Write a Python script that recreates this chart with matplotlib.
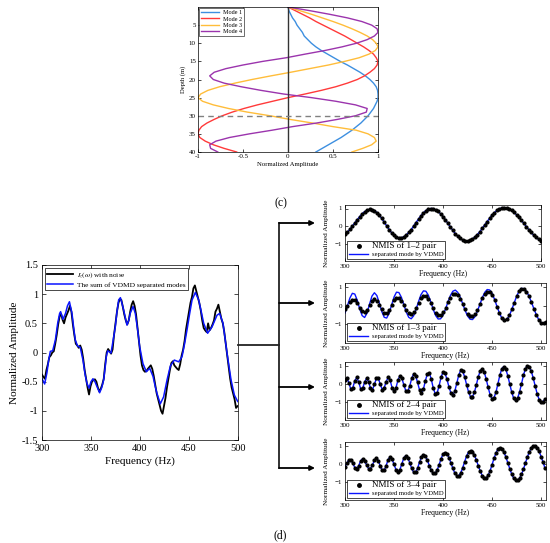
import numpy as np
import matplotlib.pyplot as plt

plt.rcParams['font.family'] = ['Liberation Serif', 'DejaVu Serif']
plt.rcParams['mathtext.fontset'] = 'stix'
plt.rcParams['xtick.direction'] = 'in'
plt.rcParams['ytick.direction'] = 'in'
plt.rcParams['xtick.top'] = True
plt.rcParams['ytick.right'] = True
plt.rcParams['axes.linewidth'] = 0.5
plt.rcParams['xtick.major.width'] = 0.5
plt.rcParams['ytick.major.width'] = 0.5

# ---- (c) normal modes vs depth ----
depth = np.arange(0, 41)
mode1 = [0, 0.01, 0.03, 0.05, 0.08, 0.10, 0.13, 0.16, 0.18, 0.22, 0.26, 0.31, 0.37, 0.44,
         0.51, 0.58, 0.66, 0.73, 0.80, 0.86, 0.91, 0.95, 0.98, 0.995, 1.0, 1.0, 0.99, 0.97,
         0.95, 0.92, 0.89, 0.85, 0.81, 0.76, 0.71, 0.65, 0.59, 0.52, 0.45, 0.38, 0.31]
mode2 = [0, 0.08, 0.16, 0.24, 0.31, 0.39, 0.47, 0.55, 0.63, 0.70, 0.77, 0.84, 0.90, 0.95,
         0.98, 1.0, 0.99, 0.96, 0.91, 0.85, 0.77, 0.66, 0.53, 0.37, 0.19, 0.0, -0.17, -0.34,
         -0.49, -0.62, -0.73, -0.82, -0.90, -0.96, -0.99, -1.0, -0.98, -0.92, -0.83, -0.71, -0.57]
mode3 = [0, 0.13, 0.26, 0.38, 0.50, 0.61, 0.71, 0.80, 0.88, 0.94, 0.98, 1.0, 0.97, 0.90,
         0.79, 0.63, 0.45, 0.24, 0.03, -0.19, -0.40, -0.59, -0.76, -0.89, -0.97, -1.0, -0.95,
         -0.83, -0.66, -0.45, -0.20, 0.02, 0.27, 0.50, 0.76, 0.89, 0.96, 0.98, 0.93, 0.83, 0.71]
mode4 = [0, 0.24, 0.46, 0.66, 0.82, 0.93, 0.99, 1.0, 0.96, 0.88, 0.76, 0.60, 0.41, 0.19,
         -0.02, -0.28, -0.50, -0.69, -0.82, -0.87, -0.83, -0.71, -0.52, -0.30, -0.05, 0.26,
         0.53, 0.75, 0.88, 0.87, 0.75, 0.55, 0.32, 0.05, -0.18, -0.43, -0.65, -0.80, -0.87,
         -0.86, -0.78]
mode_names = ['Mode 1', 'Mode 2', 'Mode 3', 'Mode 4']
mode_colors = ['#3d8fe0', '#ff3a3a', '#ffbd3a', '#9b34ad']
source_depth = 30

# ---- (d) left: measured vs VDMD sum ----
sum_freq = [300, 302.7, 305, 306.8, 308.5, 310.9, 313.6, 316, 318, 319, 321.4, 324, 326, 328,
            330.6, 332.5, 334, 336.4, 339, 341.8, 344, 345.9, 348, 350, 352, 354, 356, 358.8,
            361, 362.9, 364.5, 365.6, 367, 370.4, 372.5, 374.8, 376.5, 378.2, 380, 381.5,
            383.3, 386.7, 388.5, 390, 392.9, 395.2, 397.5, 399.7, 403, 406.5, 409.9, 413.3,
            415.5, 417.3, 420.7, 424.1, 427.6, 431, 435, 439.5, 442.9, 445.5, 448, 450.5,
            453.1, 456.5, 459.9, 462.5, 465, 469, 473.5, 478.6, 481.3, 484.7, 488.8, 492.9,
            496.3, 499.7]
sum_vals = [-0.45, -0.54, -0.35, -0.13, 0.02, 0.03, 0.21, 0.5, 0.67, 0.70, 0.57, 0.67, 0.8,
            0.87, 0.67, 0.4, 0.21, 0.11, 0.09, -0.13, -0.38, -0.53, -0.61, -0.5, -0.45, -0.5,
            -0.58, -0.69, -0.6, -0.47, -0.25, -0.07, 0.03, -0.01, 0.2, 0.44, 0.7, 0.9, 0.94,
            0.85, 0.73, 0.47, 0.55, 0.67, 0.79, 0.67, 0.4, 0.1, -0.19, -0.33, -0.27, -0.41,
            -0.58, -0.7, -0.88, -0.76, -0.47, -0.23, -0.13, -0.16, -0.07, 0.15, 0.39, 0.65,
            0.9, 1.03, 0.9, 0.7, 0.5, 0.33, 0.44, 0.64, 0.67, 0.5, -0.01, -0.47, -0.73, -0.84]
noisy_freq = np.arange(300, 500.1, 1.5)
noisy_vals = [-0.38, -0.42, -0.45, -0.30, -0.20, -0.08, -0.05, 0.00, 0.02, 0.15, 0.30, 0.48,
              0.62, 0.66, 0.56, 0.50, 0.60, 0.66, 0.72, 0.80, 0.70, 0.48, 0.30, 0.15, 0.12,
              0.08, 0.12, 0.05, -0.10, -0.30, -0.45, -0.60, -0.72, -0.58, -0.50, -0.47, -0.46,
              -0.50, -0.60, -0.67, -0.62, -0.55, -0.45, -0.20, 0.00, 0.06, 0.02, -0.02, 0.05,
              0.30, 0.50, 0.70, 0.85, 0.92, 0.90, 0.78, 0.65, 0.55, 0.48, 0.55, 0.70, 0.82,
              0.88, 0.80, 0.65, 0.42, 0.18, -0.05, -0.22, -0.30, -0.33, -0.32, -0.28, -0.25,
              -0.22, -0.28, -0.40, -0.55, -0.70, -0.80, -0.90, -1.00, -1.05, -0.92, -0.78,
              -0.60, -0.45, -0.30, -0.18, -0.15, -0.22, -0.25, -0.28, -0.30, -0.20, -0.05,
              0.05, 0.20, 0.40, 0.55, 0.70, 0.85, 0.95, 1.10, 1.15, 1.05, 0.95, 0.85, 0.72,
              0.55, 0.42, 0.38, 0.35, 0.50, 0.38, 0.42, 0.48, 0.55, 0.70, 0.75, 0.82, 0.70,
              0.58, 0.50, 0.35, 0.15, -0.05, -0.25, -0.45, -0.60, -0.70, -0.80, -0.95, -0.92]

# ---- (d) right: NMIS of each mode pair vs separated mode ----
f12 = np.arange(300, 500.1, 2.5)
nmis12 = [-0.47, -0.35, -0.19, -0.01, 0.18, 0.36, 0.54, 0.70, 0.82, 0.90, 0.95, 0.94, 0.88,
          0.77, 0.61, 0.43, 0.22, 0.01, -0.20, -0.38, -0.52, -0.63, -0.68, -0.67, -0.62,
          -0.51, -0.37, -0.20, 0.00, 0.20, 0.40, 0.59, 0.75, 0.88, 0.96, 1.00, 0.99, 0.93,
          0.83, 0.70, 0.54, 0.35, 0.15, -0.05, -0.25, -0.43, -0.59, -0.71, -0.80, -0.85,
          -0.86, -0.82, -0.75, -0.63, -0.49, -0.33, -0.14, 0.06, 0.25, 0.44, 0.62, 0.77, 0.89,
          0.98, 1.04, 1.05, 1.03, 0.97, 0.89, 0.78, 0.64, 0.49, 0.32, 0.15, -0.03, -0.20,
          -0.37, -0.52, -0.65, -0.76, -0.84]

f13 = np.arange(300, 505.1, 2.5)
nmis13 = [-0.20, -0.01, 0.20, 0.32, 0.30, 0.13, -0.11, -0.30, -0.35, -0.22, 0.02, 0.24, 0.33,
          0.25, 0.04, -0.21, -0.38, -0.40, -0.25, 0.01, 0.27, 0.42, 0.40, 0.25, 0.02, -0.23,
          -0.40, -0.45, -0.34, -0.12, 0.15, 0.39, 0.52, 0.50, 0.36, 0.12, -0.15, -0.38,
          -0.50, -0.49, -0.34, -0.11, 0.17, 0.42, 0.59, 0.63, 0.54, 0.34, 0.08, -0.20, -0.43,
          -0.57, -0.58, -0.46, -0.22, 0.08, 0.38, 0.62, 0.74, 0.72, 0.55, 0.27, -0.07, -0.40,
          -0.65, -0.76, -0.71, -0.52, -0.21, 0.14, 0.49, 0.75, 0.89, 0.88, 0.74, 0.50, 0.18,
          -0.16, -0.49, -0.75, -0.91, -0.95, -0.90]
vdmd13 = [-0.40, -0.01, 0.40, 0.65, 0.61, 0.28, -0.18, -0.54, -0.64, -0.40, 0.07, 0.50, 0.68,
          0.53, 0.13, -0.32, -0.63, -0.67, -0.41, 0.02, 0.45, 0.71, 0.69, 0.44, 0.05, -0.35,
          -0.63, -0.71, -0.55, -0.20, 0.21, 0.58, 0.78, 0.76, 0.55, 0.19, -0.21, -0.54,
          -0.72, -0.71, -0.51, -0.19, 0.19, 0.53, 0.76, 0.82, 0.70, 0.44, 0.10, -0.26, -0.56,
          -0.73, -0.75, -0.60, -0.31, 0.05, 0.41, 0.70, 0.85, 0.83, 0.65, 0.33, -0.05, -0.40,
          -0.68, -0.80, -0.75, -0.55, -0.23, 0.13, 0.49, 0.76, 0.91, 0.90, 0.76, 0.52, 0.19,
          -0.15, -0.48, -0.75, -0.91, -0.94, -0.88]

f24 = np.arange(300, 504.1, 2)
nmis24 = [0.18, 0.34, 0.03, -0.31, -0.21, 0.16, 0.35, 0.09, -0.29, -0.25, 0.09, 0.30, 0.12,
          -0.25, -0.33, -0.04, 0.30, 0.30, -0.04, -0.32, -0.22, 0.12, 0.35, 0.19, -0.21,
          -0.42, -0.22, 0.20, 0.44, 0.30, -0.06, -0.39, -0.42, -0.13, 0.29, 0.54, 0.45, 0.07,
          -0.34, -0.50, -0.29, 0.17, 0.55, 0.59, 0.25, -0.24, -0.55, -0.50, -0.11, 0.37, 0.64,
          0.57, 0.25, -0.18, -0.51, -0.62, -0.41, 0.03, 0.48, 0.74, 0.68, 0.39, -0.05, -0.46,
          -0.72, -0.72, -0.47, -0.05, 0.40, 0.72, 0.82, 0.65, 0.26, -0.20, -0.61, -0.82,
          -0.76, -0.46, 0.01, 0.49, 0.84, 0.95, 0.80, 0.45, -0.01, -0.46, -0.80, -0.92,
          -0.80, -0.46, -0.01, 0.47, 0.83, 1.00, 0.94, 0.69, 0.31, -0.13, -0.56, -0.87,
          -1.01, -0.98, -0.85]

f34 = np.arange(300, 504.1, 2)
nmis34 = [-0.16, 0.04, 0.22, 0.22, 0.02, -0.21, -0.27, -0.10, 0.16, 0.28, 0.17, -0.07,
          -0.27, -0.27, -0.07, 0.19, 0.30, 0.17, -0.13, -0.37, -0.36, -0.10, 0.23, 0.38,
          0.26, -0.04, -0.33, -0.45, -0.32, 0.00, 0.32, 0.45, 0.34, 0.06, -0.26, -0.47,
          -0.47, -0.25, 0.09, 0.38, 0.50, 0.42, 0.19, -0.10, -0.37, -0.53, -0.53, -0.35,
          -0.05, 0.28, 0.53, 0.62, 0.55, 0.34, 0.05, -0.26, -0.52, -0.66, -0.66, -0.50,
          -0.23, 0.11, 0.43, 0.65, 0.73, 0.66, 0.48, 0.20, -0.12, -0.42, -0.65, -0.78,
          -0.78, -0.64, -0.38, -0.05, 0.30, 0.60, 0.81, 0.88, 0.82, 0.65, 0.38, 0.06, -0.27,
          -0.57, -0.80, -0.91, -0.92, -0.80, -0.59, -0.30, 0.04, 0.37, 0.66, 0.87, 0.99,
          0.99, 0.88, 0.68, 0.40, 0.08, -0.25]


def pair_panel(rect, freq, dots, line, label, xmax):
    ax = fig.add_axes(rect)
    ax.plot(freq, line, color='#0a14ff', lw=1.0, zorder=2)
    ax.plot(freq, dots, 'o', color='k', ms=2.0, zorder=3)
    ax.set_xlim(300, xmax)
    ax.set_ylim(-2, 1.2)
    ax.set_xticks([300, 350, 400, 450, 500])
    ax.set_yticks([-1, 0, 1])
    ax.tick_params(labelsize=5, length=2, pad=2)
    ax.set_xlabel('Frequency (Hz)', fontsize=5.5, labelpad=1)
    ax.set_ylabel('Normalized Amplitude', fontsize=5.2, labelpad=4)
    h1, = ax.plot([], [], 'o', color='k', ms=2.5)
    h2, = ax.plot([], [], color='#0a14ff', lw=1.0)
    leg = ax.legend([h1, h2], [label, 'separated mode by VDMD'], loc='lower left',
                    fontsize=4.8, fancybox=False, edgecolor='k', framealpha=1,
                    borderpad=0.25, handlelength=2.9, labelspacing=0.15, borderaxespad=0.35,
                    handletextpad=0.5)
    leg.get_frame().set_linewidth(0.5)
    leg.get_texts()[0].set_fontsize(6.5)
    return ax


fig = plt.figure(figsize=(5.5, 5.43), dpi=100)
W, H = 550, 543


def px_rect(x0, y0, x1, y1):
    return [x0 / W, 1 - y1 / H, (x1 - x0) / W, (y1 - y0) / H]


# (c)
axc = fig.add_axes(px_rect(198, 7, 378, 152))
for vals, name, col in zip([mode1, mode2, mode3, mode4], mode_names, mode_colors):
    axc.plot(vals, depth, color=col, lw=1.0, label=name)
axc.axvline(0, color='#333333', lw=1.0)
axc.axhline(source_depth, color='#808080', lw=1.0, ls=(0, (4, 3)))
axc.set_xlim(-1, 1)
axc.set_ylim(40, 0)
axc.set_xticks([-1, -0.5, 0, 0.5, 1])
axc.set_xticklabels(['-1', '-0.5', '0', '0.5', '1'])
axc.set_yticks(range(5, 41, 5))
axc.tick_params(labelsize=5, length=2, pad=1.5)
axc.set_xlabel('Normalized Amplitude', fontsize=4.8, labelpad=2)
axc.set_ylabel('Depth (m)', fontsize=4.8, labelpad=2)
legc = axc.legend(loc='upper left', fontsize=4.4, fancybox=False, edgecolor='#333333',
                  framealpha=1, borderpad=0.3, handlelength=3, labelspacing=0.15,
                  borderaxespad=0.2, handletextpad=0.6)
legc.get_frame().set_linewidth(0.5)

# (d) left
axl = fig.add_axes(px_rect(42, 265, 238, 440))
axl.plot(noisy_freq, noisy_vals, color='k', lw=1.3, label=r'$I_z(\omega)$ with noise')
axl.plot(sum_freq, sum_vals, color='#0a14ff', lw=1.1, label='The sum of VDMD separated modes')
axl.set_xlim(300, 500)
axl.set_ylim(-1.5, 1.5)
axl.set_xticks([300, 350, 400, 450, 500])
axl.set_yticks([-1.5, -1, -0.5, 0, 0.5, 1, 1.5])
axl.set_yticklabels(['-1.5', '-1', '-0.5', '0', '0.5', '1', '1.5'])
axl.tick_params(labelsize=7.5, length=3, pad=3)
axl.set_xlabel('Frequency (Hz)', fontsize=8, labelpad=2)
axl.set_ylabel('Normalized Amplitude', fontsize=8, labelpad=2)
legl = axl.legend(loc='upper left', fontsize=5.3, fancybox=False, edgecolor='k', framealpha=1,
                  borderpad=0.3, handlelength=3.5, labelspacing=0.2, borderaxespad=0.4,
                  handletextpad=0.6)
legl.get_frame().set_linewidth(0.5)

# (d) right
pair_panel(px_rect(345, 205, 541, 261), f12, nmis12, nmis12, 'NMIS of 1\u20132 pair', 500)
pair_panel(px_rect(345, 283, 546, 343), f13, nmis13, vdmd13, 'NMIS of 1\u20133 pair', 505)
pair_panel(px_rect(345, 362, 546, 420), f24, nmis24, nmis24, 'NMIS of 2\u20134 pair', 505)
pair_panel(px_rect(345, 442, 546, 500), f34, nmis34, nmis34, 'NMIS of 3\u20134 pair', 505)

# connectors and panel tags
ov = fig.add_axes([0, 0, 1, 1])
ov.set_xlim(0, W)
ov.set_ylim(H, 0)
ov.axis('off')
ov.plot([238, 279], [345, 345], color='#222222', lw=1.3)
ov.plot([279, 279], [223, 468], color='#222222', lw=1.3)
for yy in [223, 303, 387, 468]:
    ov.annotate('', xy=(315, yy), xytext=(279, yy),
                arrowprops=dict(arrowstyle='-|>', color='k', lw=1.3, mutation_scale=7,
                                shrinkA=0, shrinkB=0))
ov.text(281, 203, '(c)', ha='center', va='center', fontsize=8.5)
ov.text(280, 535, '(d)', ha='center', va='center', fontsize=8.5)

fig.savefig('out.png', dpi=100)
